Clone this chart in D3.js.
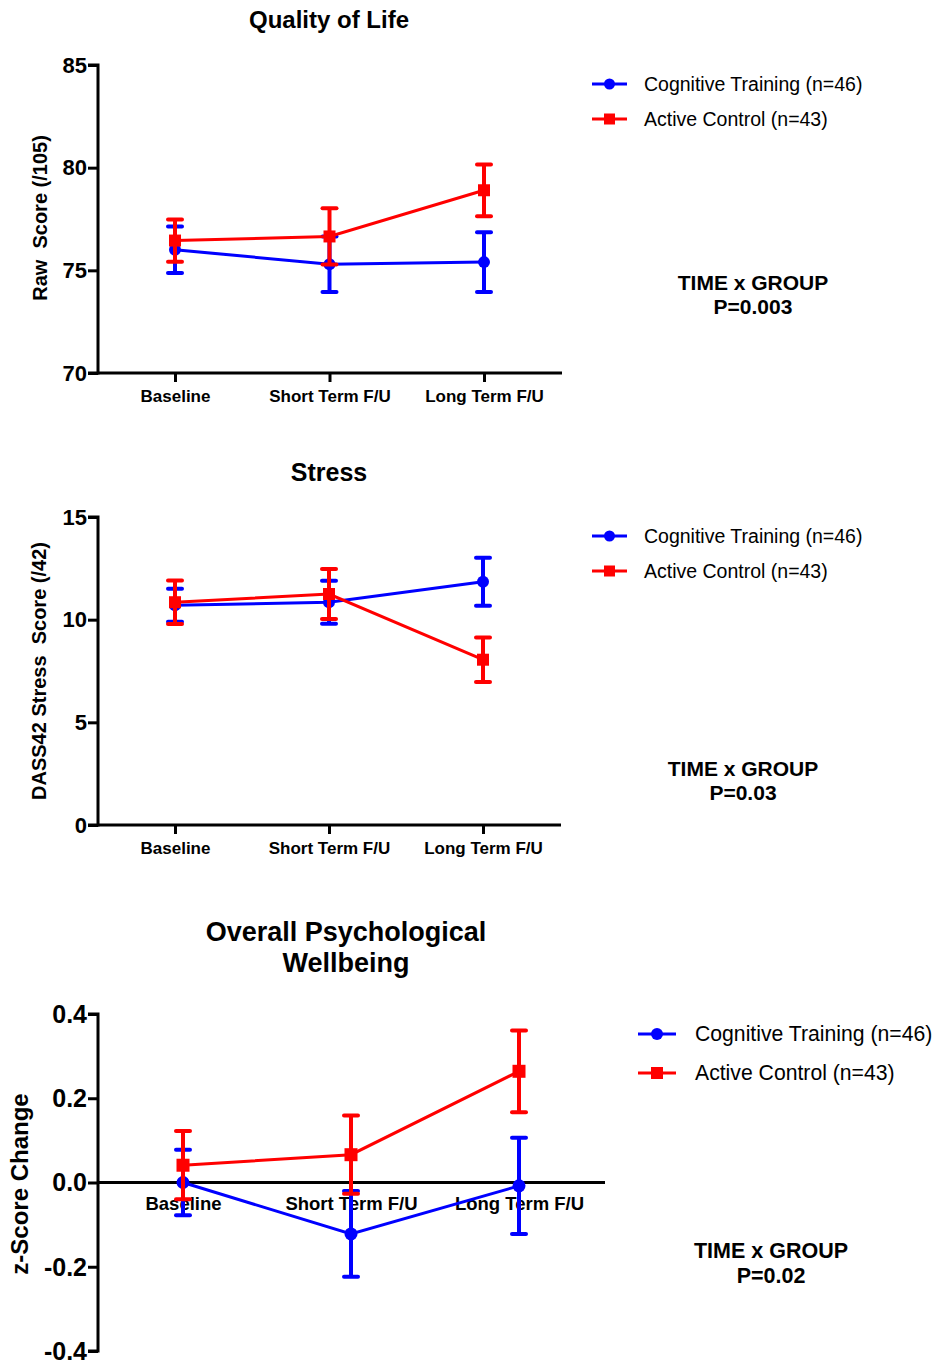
<!DOCTYPE html>
<html>
<head>
<meta charset="utf-8">
<script src="https://cdn.jsdelivr.net/npm/d3@7"></script>
<style>
  body { margin: 0; background: #fff; }
  svg { display: block; font-family: "Liberation Sans", Arial, sans-serif; }
</style>
</head>
<body>
<svg width="933" height="1362"></svg>
<script>
var timepoints = ["Baseline", "Short Term F/U", "Long Term F/U"];
var groupNames = ["Cognitive Training (n=46)", "Active Control (n=43)"];

// Quality of Life (raw score /105), mean and SEM
var qolTraining = [76.0, 75.3, 75.4];
var qolTrainingErr = [1.13, 1.35, 1.45];
var qolControl = [76.45, 76.65, 78.9];
var qolControlErr = [1.03, 1.37, 1.26];
var qolTicks = [70, 75, 80, 85];

// Stress (DASS42 /42)
var stressTraining = [10.7, 10.85, 11.85];
var stressTrainingErr = [0.8, 1.05, 1.17];
var stressControl = [10.85, 11.25, 8.05];
var stressControlErr = [1.06, 1.22, 1.08];
var stressTicks = [0, 5, 10, 15];

// Overall Psychological Wellbeing (z-score change)
var wellTraining = [0.0, -0.122, -0.008];
var wellTrainingErr = [0.078, 0.102, 0.114];
var wellControl = [0.041, 0.066, 0.264];
var wellControlErr = [0.081, 0.093, 0.097];
var wellTicks = [-0.4, -0.2, 0.0, 0.2, 0.4];

var blue = "#0000ff", red = "#ff0000";
var svg = d3.select("svg");

function drawPanel(p) {
  var g = svg.append("g");
  var y = d3.scaleLinear().domain(p.domain).range([p.bottom, p.top]);
  var x = d3.scalePoint().domain(timepoints).range([p.x0, p.x1]);

  // title
  p.title.forEach(function(t, i) {
    g.append("text").attr("x", p.titleX).attr("y", p.titleY + i * p.titleSize * 1.15)
      .attr("text-anchor", "middle").attr("font-weight", "bold")
      .attr("font-size", p.titleSize).text(t);
  });

  // y axis
  var yAxis = d3.axisLeft(y).tickValues(p.ticks).tickSize(10).tickPadding(1)
    .tickFormat(function(d) { return p.fmt(d).replace("\u2212", "-"); });
  var ya = g.append("g").attr("transform", "translate(" + p.left + ",0)").call(yAxis);
  ya.select(".domain").attr("stroke-width", 3).attr("d", "M-10," + p.bottom + "H0V" + p.top + "H-10");
  ya.selectAll(".tick line").attr("stroke-width", 3);
  ya.selectAll(".tick text").attr("font-size", p.tickSize).attr("font-weight", "bold")
    .attr("fill", "#000").attr("dy", "0.33em")
    .attr("font-family", "Liberation Sans, Arial, sans-serif");

  // x axis
  var axisY = y(p.xAxisAt);
  var xAxis = d3.axisBottom(x).tickSize(p.xTicks ? 9 : 0).tickPadding(p.xPad);
  var xa = g.append("g").attr("transform", "translate(0," + axisY + ")").call(xAxis);
  xa.select(".domain").attr("stroke-width", 3).attr("d", "M" + p.left + ",0H" + p.right);
  xa.selectAll(".tick line").attr("stroke-width", 3);
  xa.selectAll(".tick text").attr("font-size", p.xLabelSize).attr("font-weight", "bold")
    .attr("fill", "#000").attr("font-family", "Liberation Sans, Arial, sans-serif");

  // y label
  g.append("text")
    .attr("transform", "translate(" + p.ylabX + "," + p.ylabY + ") rotate(-90)")
    .attr("text-anchor", "middle").attr("font-weight", "bold")
    .attr("font-size", p.ylabSize).attr("xml:space", "preserve").text(p.ylab);

  // series
  var series = [
    { vals: p.s1, err: p.e1, color: blue, shape: "circle" },
    { vals: p.s2, err: p.e2, color: red, shape: "square" }
  ];
  var line = d3.line().x(function(d, i) { return x(timepoints[i]); }).y(function(d) { return y(d); });
  series.forEach(function(s) {
    var sg = g.append("g");
    sg.append("path").attr("d", line(s.vals)).attr("fill", "none")
      .attr("stroke", s.color).attr("stroke-width", 3);
    s.vals.forEach(function(v, i) {
      var cx = x(timepoints[i]);
      var hi = y(v + s.err[i]), lo = y(v - s.err[i]);
      sg.append("line").attr("x1", cx).attr("x2", cx).attr("y1", hi).attr("y2", lo)
        .attr("stroke", s.color).attr("stroke-width", 4);
      [hi, lo].forEach(function(cy) {
        sg.append("line").attr("x1", cx - 7).attr("x2", cx + 7).attr("y1", cy).attr("y2", cy)
          .attr("stroke", s.color).attr("stroke-width", 4).attr("stroke-linecap", "round");
      });
      if (s.shape === "circle") {
        sg.append("circle").attr("cx", cx).attr("cy", y(v)).attr("r", p.mk / 2).attr("fill", s.color);
      } else {
        sg.append("rect").attr("x", cx - p.mk / 2).attr("y", y(v) - p.mk / 2)
          .attr("width", p.mk).attr("height", p.mk).attr("fill", s.color);
      }
    });
  });

  // legend
  series.forEach(function(s, i) {
    var ly = p.legY + i * p.legGap;
    var lg = g.append("g");
    lg.append("line").attr("x1", p.legX).attr("x2", p.legX + p.legLen).attr("y1", ly).attr("y2", ly)
      .attr("stroke", s.color).attr("stroke-width", 3);
    var mx = p.legX + p.legLen / 2;
    if (s.shape === "circle") {
      lg.append("circle").attr("cx", mx).attr("cy", ly).attr("r", p.mk / 2 - 0.5).attr("fill", s.color);
    } else {
      lg.append("rect").attr("x", mx - p.mk / 2 + 0.5).attr("y", ly - p.mk / 2 + 0.5)
        .attr("width", p.mk - 1).attr("height", p.mk - 1).attr("fill", s.color);
    }
    lg.append("text").attr("x", p.legTextX).attr("y", ly).attr("dy", "0.35em")
      .attr("font-size", p.legSize).text(groupNames[i]);
  });

  // interaction annotation
  g.append("text").attr("x", p.annX).attr("y", p.annY).attr("text-anchor", "middle")
    .attr("font-weight", "bold").attr("font-size", p.annSize).text("TIME x GROUP");
  g.append("text").attr("x", p.annX).attr("y", p.annY + p.annSize * 1.15).attr("text-anchor", "middle")
    .attr("font-weight", "bold").attr("font-size", p.annSize).text(p.pval);
}

drawPanel({
  title: ["Quality of Life"], titleX: 329, titleY: 28, titleSize: 24,
  domain: [70, 85], ticks: qolTicks, fmt: d3.format("d"), top: 65, bottom: 373,
  left: 98, right: 562, x0: 175, x1: 484, xAxisAt: 70, xTicks: true, xPad: 8, xLabelSize: 17,
  tickSize: 22, ylab: "Raw  Score (/105)", ylabX: 47, ylabY: 218, ylabSize: 20,
  s1: qolTraining, e1: qolTrainingErr, s2: qolControl, e2: qolControlErr, mk: 12,
  legX: 592, legLen: 35, legTextX: 644, legY: 84, legGap: 35, legSize: 19.5,
  annX: 753, annY: 290, annSize: 21, pval: "P=0.003"
});

drawPanel({
  title: ["Stress"], titleX: 329, titleY: 481, titleSize: 25,
  domain: [0, 15], ticks: stressTicks, fmt: d3.format("d"), top: 517, bottom: 825,
  left: 98, right: 561, x0: 175, x1: 483, xAxisAt: 0, xTicks: true, xPad: 8, xLabelSize: 17,
  tickSize: 22, ylab: "DASS42 Stress  Score (/42)", ylabX: 46, ylabY: 671, ylabSize: 20,
  s1: stressTraining, e1: stressTrainingErr, s2: stressControl, e2: stressControlErr, mk: 12,
  legX: 592, legLen: 35, legTextX: 644, legY: 536, legGap: 35, legSize: 19.5,
  annX: 743, annY: 776, annSize: 21, pval: "P=0.03"
});

drawPanel({
  title: ["Overall Psychological", "Wellbeing"], titleX: 346, titleY: 941, titleSize: 27,
  domain: [-0.4, 0.4], ticks: wellTicks, fmt: d3.format(".1f"), top: 1014, bottom: 1351,
  left: 98, right: 605, x0: 183, x1: 519, xAxisAt: 0, xTicks: false, xPad: 14, xLabelSize: 18.5,
  tickSize: 25, ylab: "z-Score Change", ylabX: 28, ylabY: 1184, ylabSize: 24,
  s1: wellTraining, e1: wellTrainingErr, s2: wellControl, e2: wellControlErr, mk: 13,
  legX: 638, legLen: 38, legTextX: 695, legY: 1034, legGap: 39, legSize: 21.2,
  annX: 771, annY: 1258, annSize: 21.5, pval: "P=0.02"
});
</script>
</body>
</html>
